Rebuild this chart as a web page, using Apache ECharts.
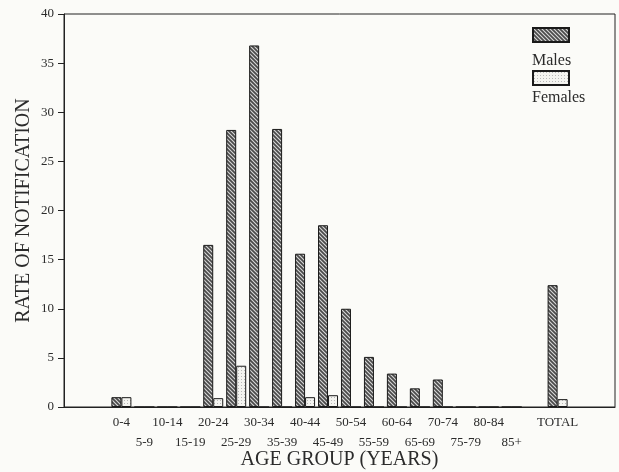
<!DOCTYPE html>
<html>
<head>
<meta charset="utf-8">
<script src="https://cdn.jsdelivr.net/npm/echarts@6/dist/echarts.min.js"></script>
<style>
  html, body { margin: 0; padding: 0; background: #fbfbf8; }
  #chart { width: 619px; height: 472px; }
</style>
</head>
<body>
<div id="chart"></div>
<script>
// age groups, padded with empty slots like the original axis
const ageGroups = ['', '', '0-4', '5-9', '10-14', '15-19', '20-24', '25-29', '30-34', '35-39',
    '40-44', '45-49', '50-54', '55-59', '60-64', '65-69', '70-74', '75-79', '80-84', '85+',
    '', 'TOTAL', '', ''];
// labels that sit on the lower row
const lowerRow = ['5-9', '15-19', '25-29', '35-39', '45-49', '55-59', '65-69', '75-79', '85+'];
const males = [null, null, 1.0, 0, 0, 0, 16.5, 28.2, 36.8, 28.3, 15.6, 18.5, 10.0, 5.1, 3.4, 1.9, 2.8, 0, 0, 0,
    null, 12.4, null, null];
const females = [null, null, 1.0, 0, 0, 0, 0.9, 4.2, 0, 0, 1.0, 1.2, 0, 0, 0, 0, 0, 0, 0, 0,
    null, 0.8, null, null];
const seriesNames = ['Males', 'Females'];
const yTicks = [0, 40, 5];

const serif = 'Liberation Serif';
const ink = '#2b2b2b';

function hatch() {
    let c = document.createElement('canvas');
    c.width = 4; c.height = 4;
    let g = c.getContext('2d');
    g.fillStyle = '#4a4a4a';
    g.fillRect(0, 0, 4, 4);
    g.strokeStyle = '#d8d8d8';
    g.lineWidth = 1.1;
    g.beginPath();
    g.moveTo(-1, -1); g.lineTo(5, 5);
    g.moveTo(-1, 3); g.lineTo(1, 5);
    g.moveTo(3, -1); g.lineTo(5, 1);
    g.stroke();
    return c;
}
function dots() {
    let c = document.createElement('canvas');
    c.width = 3; c.height = 3;
    let g = c.getContext('2d');
    g.fillStyle = '#f4f4f0';
    g.fillRect(0, 0, 3, 3);
    g.fillStyle = '#b8b8b8';
    g.fillRect(1, 1, 1, 1);
    return c;
}

let myChart = echarts.init(document.getElementById('chart'));
let option = {
    backgroundColor: '#fbfbf8',
    animation: false,
    grid: {
        left: 64, right: 4, top: 14, bottom: 65,
        outerBoundsMode: 'none',
        show: true, borderColor: '#222', borderWidth: 1
    },
    // legend shows only the swatches, the names sit under them (graphic below)
    legend: {
        orient: 'vertical',
        left: 532, top: 27,
        padding: 0,
        itemWidth: 36, itemHeight: 14,
        itemGap: 27,
        icon: 'rect',
        formatter: function () { return ''; },
        data: seriesNames
    },
    graphic: [
        {
            type: 'text', left: 532, top: 53,
            style: { text: seriesNames[0], fontFamily: serif, fontSize: 16, fill: ink }
        },
        {
            type: 'text', left: 532, top: 90,
            style: { text: seriesNames[1], fontFamily: serif, fontSize: 16, fill: ink }
        }
    ],
    xAxis: {
        type: 'category',
        data: ageGroups,
        name: 'AGE GROUP (YEARS)',
        nameLocation: 'middle',
        nameGap: 43,
        nameMoveOverlap: false,
        nameTextStyle: { fontFamily: serif, fontSize: 20, color: ink },
        axisLine: { lineStyle: { color: '#222', width: 1 } },
        axisTick: {
            inside: true, length: 5,
            lineStyle: { color: '#222' },
            interval: function (i) { return i >= 3 && i <= 21; }
        },
        axisLabel: {
            interval: 0,
            margin: 6,
            fontFamily: serif, fontSize: 13, color: ink,
            lineHeight: 20,
            formatter: function (v) {
                if (!v) return '';
                return lowerRow.indexOf(v) >= 0 ? '\n' + v : v;
            }
        }
    },
    yAxis: {
        type: 'value',
        min: yTicks[0], max: yTicks[1], interval: yTicks[2],
        name: 'RATE OF NOTIFICATION',
        nameLocation: 'middle',
        nameGap: 30,
        nameMoveOverlap: false,
        nameTextStyle: { fontFamily: serif, fontSize: 20, color: ink },
        axisLine: { show: true, lineStyle: { color: '#222', width: 1 } },
        axisTick: { show: true, length: 6, lineStyle: { color: '#222' } },
        splitLine: { show: false },
        axisLabel: { fontFamily: serif, fontSize: 13, color: ink, margin: 10 }
    },
    series: [
        {
            name: seriesNames[0],
            type: 'bar',
            data: males,
            barWidth: 10,
            barGap: '0%',
            itemStyle: {
                color: { image: hatch(), repeat: 'repeat' },
                borderColor: '#1a1a1a', borderWidth: 1
            }
        },
        {
            name: seriesNames[1],
            type: 'bar',
            data: females,
            barWidth: 10,
            barGap: '0%',
            itemStyle: {
                color: { image: dots(), repeat: 'repeat' },
                borderColor: '#1a1a1a', borderWidth: 1
            }
        }
    ]
};
myChart.setOption(option);
</script>
</body>
</html>
